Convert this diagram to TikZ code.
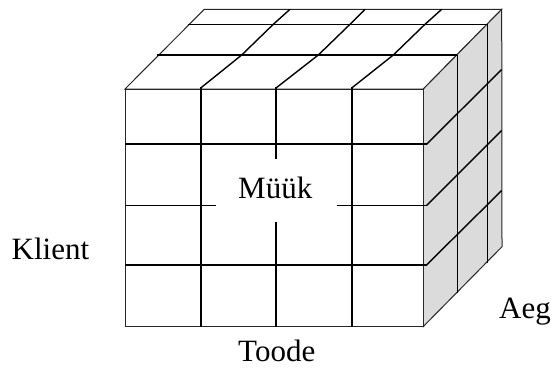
\documentclass[tikz,border=0pt]{standalone}
\usepackage{fontspec}
\setmainfont{Liberation Serif}
\begin{document}
\begin{tikzpicture}[x=1pt,y=-1pt,
  edge/.style={line width=1pt,draw=black!85},
  thick grid/.style={line width=2.2pt,draw=black},
  mid grid/.style={line width=1.8pt,draw=black},
  thin grid/.style={line width=1.4pt,draw=black},
  lbl/.style={inner sep=0pt,anchor=base west,font=\fontsize{31}{36}\selectfont}]
\useasboundingbox (0,0) rectangle (553,367);
% faces
\filldraw[edge,fill=white] (125,89) -- (204.3,9.3) -- (501.7,9.3) -- (423.3,89) -- cycle;
\filldraw[edge,fill=black!14] (423.3,89) -- (501.7,9.3) -- (502,246.7) -- (423.3,326.5) -- cycle;
\filldraw[edge,fill=white] (125,89) rectangle (423.3,326.5);
% top face grid
\draw[thin grid] (157.3,55) -- (457.3,55);
\draw[thin grid] (187.7,24.3) -- (487.3,24.3);
\draw[thin grid] (200.7,88) -- (241.7,55) -- (273.3,24.3) -- (290,9.3);
\draw[thin grid] (276,88) -- (318.3,55) -- (350,24.3) -- (365,9.3);
\draw[thin grid] (351.7,88) -- (393.3,55) -- (425,24.3) -- (441.7,9.3);
% right face grid
\draw[thin grid] (457.3,55) -- (457.3,293);
\draw[thin grid] (487.3,24.3) -- (487.3,263);
% front face grid with right face continuations
\draw[mid grid] (125,144.3) -- (426.5,144.3);
\draw[thin grid] (426.5,144.3) -- (501.7,69.5);
\draw[mid grid] (125,205.5) -- (216,205.5);
\draw[mid grid] (337,205.5) -- (426.5,205.5);
\draw[thin grid] (426.5,205.5) -- (501.7,130.5);
\draw[mid grid] (125,265) -- (426.5,265);
\draw[thin grid] (426.5,265) -- (501.7,190.5);
\draw[thick grid] (200.7,87) -- (200.7,326.5);
\draw[thick grid] (351.7,87) -- (351.7,326.5);
\draw[thin grid] (276,87) -- (276,159);
\draw[thin grid] (276,221.5) -- (276,326.5);
% labels
\node[lbl] (muuk) at (238,198.3) {Müük};
\node[lbl] (klient) at (11.5,259.3) {Klient};
\node[lbl] (toode) at (238,361.5) {Toode};
\node[lbl] (aeg) at (499,318) {Aeg};
\end{tikzpicture}
\end{document}
